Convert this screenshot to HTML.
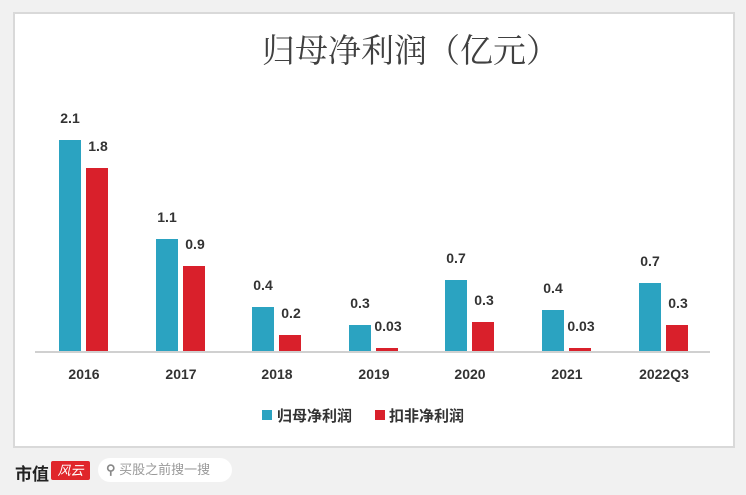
<!DOCTYPE html>
<html><head><meta charset="utf-8"><style>
body{margin:0;width:746px;height:495px;background:#f1f1f1;position:relative;overflow:hidden;font-family:"Liberation Sans","Noto Sans CJK SC",sans-serif}
.box{position:absolute;left:13px;top:12px;width:718px;height:432px;background:#fff;border:2px solid #d9d9d9}
.t{position:absolute;left:262px;top:25px;white-space:nowrap;font-family:"Liberation Serif","Noto Serif CJK SC",serif;font-size:33px;color:#404040}
.b{position:absolute;width:22px}
.tl{background:#2ba3c1}.rd{background:#d9202b}
.l{position:absolute;font-weight:bold;font-size:14px;color:#333;width:40px;text-align:center}
.x{position:absolute;top:366px;font-weight:bold;font-size:14px;color:#333;width:80px;text-align:center}
.base{position:absolute;left:35px;top:351px;width:675px;height:2px;background:#d0d0d0}
.lg{position:absolute;top:405px;font-size:15px;font-weight:bold;color:#333}
.sq{position:absolute;top:410px;width:10px;height:10px}
</style></head><body>
<div class="box"></div>
<div class="t">归母净利润（亿元）</div>
<div class="base"></div>
<div id="c"></div>
<script>
var t=[140,239,307,325,280,310,283],r=[168,266,335,348,322,348,325];
var tv=["2.1","1.1","0.4","0.3","0.7","0.4","0.7"],rv=["1.8","0.9","0.2","0.03","0.3","0.03","0.3"];
var yr=["2016","2017","2018","2019","2020","2021","2022Q3"];var h="";
for(var i=0;i<7;i++){var x=Math.round(59+96.6*i);
h+='<div class="b tl" style="left:'+x+'px;top:'+t[i]+'px;height:'+(351-t[i])+'px"></div>';
h+='<div class="b rd" style="left:'+(x+27)+'px;top:'+r[i]+'px;height:'+(351-r[i])+'px"></div>';
h+='<div class="l" style="left:'+(x-9)+'px;top:'+(t[i]-30)+'px">'+tv[i]+'</div>';
h+='<div class="l" style="left:'+(x+19)+'px;top:'+(r[i]-30)+'px">'+rv[i]+'</div>';
h+='<div class="x" style="left:'+(x-15)+'px">'+yr[i]+'</div>';}
document.getElementById("c").innerHTML=h;
</script>
<div class="sq tl" style="left:262px"></div><div class="lg" style="left:277px">归母净利润</div>
<div class="sq rd" style="left:375px"></div><div class="lg" style="left:389px">扣非净利润</div>
<div style="position:absolute;left:15px;top:460px;font-size:17px;font-weight:bold;color:#222">市值</div>
<div style="position:absolute;left:51px;top:461px;width:39px;height:19px;background:#e0262b;border-radius:2px;color:#fff;font-size:13px;text-align:center;line-height:19px;font-style:italic">风云</div>
<div style="position:absolute;left:98px;top:458px;width:134px;height:24px;background:#fff;border-radius:12px;color:#999;font-size:13px;line-height:24px"><span style="margin-left:8px;font-weight:bold;color:#888">&#9906;</span> 买股之前搜一搜</div>
</body></html>
